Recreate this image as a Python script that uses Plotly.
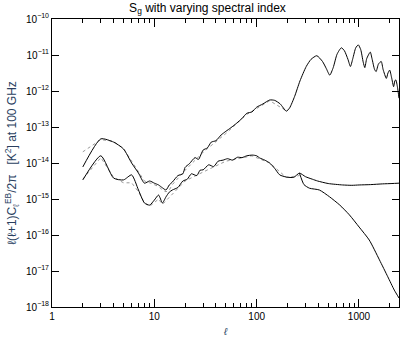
import plotly.graph_objects as go


#
# Data (multipole l, log10 of power)
#

# acoustic-peak curve
ELL_A = [2, 3, 4, 5, 6, 7, 8, 9, 10, 11, 12, 13, 14, 15, 17, 19, 20, 22, 25, 27, 30, 33, 36, 40,
         45, 50, 56, 64, 72, 80, 90, 100, 115, 134, 150, 170, 195, 210, 235, 265, 305, 340, 387,
         440, 480, 518, 560, 610, 672, 720, 780, 825, 870, 930, 985, 1040, 1100, 1140, 1190, 1289,
         1340, 1420, 1470, 1550, 1650, 1720, 1850, 1920, 1995, 2080, 2180, 2240, 2290, 2380, 2460]
LOG_A = [-14.11, -13.33, -13.42, -13.61, -14.0, -14.28, -14.56, -14.5, -14.56, -14.61, -14.69,
         -14.75, -14.61, -14.53, -14.35, -14.3, -14.12, -14.02, -13.85, -13.9, -13.64, -13.58,
         -13.42, -13.38, -13.22, -13.12, -13.02, -12.89, -12.76, -12.62, -12.58, -12.45, -12.36,
         -12.25, -12.26, -12.36, -12.56, -12.47, -12.15, -11.72, -11.32, -11.12, -11.02, -11.18,
         -11.38, -11.56, -11.35, -10.98, -10.8, -10.88, -11.12, -11.32, -11.1, -10.8, -10.72,
         -10.85, -11.2, -11.35, -11.1, -10.92, -11.1, -11.4, -11.46, -11.25, -11.18, -11.4, -11.65,
         -11.5, -11.42, -11.62, -11.88, -11.72, -11.69, -11.9, -12.2]

# curve flattening at high l
ELL_B = [2, 3, 4, 5, 6, 7, 8, 9, 10, 11, 12, 13, 14, 15, 17, 19, 21, 23, 26, 28, 30, 34, 38, 42,
         47, 52, 58, 65, 72, 80, 91, 100, 107, 120, 134, 150, 168, 195, 230, 262, 300, 350, 394,
         500, 692, 850, 1004, 1300, 1700, 2100, 2460]
LOG_B = [-14.47, -13.8, -14.42, -14.47, -14.33, -14.75, -15.11, -15.17, -15.03, -14.89, -15.11,
         -14.94, -14.81, -14.75, -14.68, -14.5, -14.45, -14.3, -14.35, -14.2, -14.19, -14.05,
         -14.1, -13.95, -13.92, -13.88, -13.92, -13.84, -13.85, -13.8, -13.78, -13.8, -13.86,
         -13.92, -14.0, -14.15, -14.33, -14.39, -14.4, -14.28, -14.38, -14.45, -14.5, -14.57,
         -14.61, -14.62, -14.61, -14.6, -14.58, -14.57, -14.56]

# curve falling off at high l
ELL_C = [262, 290, 328, 410, 516, 650, 805, 1004, 1260, 1584, 1912, 2213, 2460]
LOG_C = [-14.28, -14.6, -14.7, -14.75, -14.94, -15.17, -15.44, -15.78, -16.14, -16.69, -17.16,
         -17.53, -17.75]

# dotted variants
ELL_D1 = [2, 3, 4, 5, 6, 7, 8, 9, 10, 11, 12, 13, 14, 15, 20, 30, 50, 80, 134, 195]
LOG_D1 = [-13.69, -13.35, -13.4, -13.6, -13.95, -14.25, -14.5, -14.55, -14.6, -14.65, -14.75,
          -14.8, -14.75, -14.6, -14.2, -13.7, -13.18, -12.65, -12.27, -12.55]
ELL_D2 = [2, 3, 4, 5, 6, 7, 8, 9, 10, 11, 12, 13, 14, 15, 20, 30, 50, 90, 134, 195, 262]
LOG_D2 = [-14.45, -13.85, -14.4, -14.55, -14.55, -14.8, -15.1, -15.2, -15.1, -15.0, -15.15,
          -15.05, -14.95, -14.85, -14.5, -14.25, -13.95, -13.8, -14.0, -14.4, -14.35]

X_TICKS = [1, 10, 100, 1000]
X_TICK_LABELS = ["1", "10", "100", "1000"]
Y_EXPONENTS = [-18, -17, -16, -15, -14, -13, -12, -11, -10]

FONT = "Liberation Sans, Arial, sans-serif"


def to_power(logs):
    return [10 ** v for v in logs]


fig = go.Figure()

for ell, logs in [(ELL_D1, LOG_D1), (ELL_D2, LOG_D2)]:
    fig.add_trace(go.Scatter(x=ell, y=to_power(logs), mode="lines",
                             line=dict(color="#999999", width=1, dash="dot")))

for ell, logs in [(ELL_A, LOG_A), (ELL_B, LOG_B), (ELL_C, LOG_C)]:
    fig.add_trace(go.Scatter(x=ell, y=to_power(logs), mode="lines",
                             line=dict(color="black", width=1, shape="spline", smoothing=0.6)))

axis_common = dict(
    type="log", showgrid=False, zeroline=False, automargin=False,
    showline=True, linecolor="black", linewidth=1, mirror="ticks",
    ticks="inside", tickcolor="black", tickwidth=1,
    tickfont=dict(family=FONT, size=10, color="black"),
)

fig.update_xaxes(
    **axis_common,
    range=[0, 3.391],
    tickvals=X_TICKS, ticktext=X_TICK_LABELS, ticklen=8,
    minor=dict(ticks="inside", ticklen=4, tickcolor="black", dtick="D1", showgrid=False),
    title=dict(text="<i>ℓ</i>", font=dict(family=FONT, size=10), standoff=6),
)
fig.update_yaxes(
    **axis_common,
    range=[-18, -10],
    tickvals=[10 ** e for e in Y_EXPONENTS],
    ticktext=[f"10<sup>−{-e}</sup>" for e in Y_EXPONENTS],
    ticklen=7,
    title=dict(text="ℓ(ℓ+1)C<sub>ℓ</sub><sup>EB</sup>/2π   [K<sup>2</sup>] at 100 GHz",
               font=dict(family=FONT, size=12), standoff=6),
)

fig.update_layout(
    width=415, height=346,
    margin=dict(l=52, r=16, t=19, b=39),
    paper_bgcolor="white", plot_bgcolor="white",
    showlegend=False,
    title=dict(text="S<sub>g</sub> with varying spectral index", x=0.5, xanchor="center",
               y=0.99, yanchor="top", font=dict(family=FONT, size=12, color="black")),
)

# drop the default 8px page margin so the figure sits at the window's corner
fig.write_html("out.html", config={"displayModeBar": False},
               post_script="document.body.style.margin='0';")
